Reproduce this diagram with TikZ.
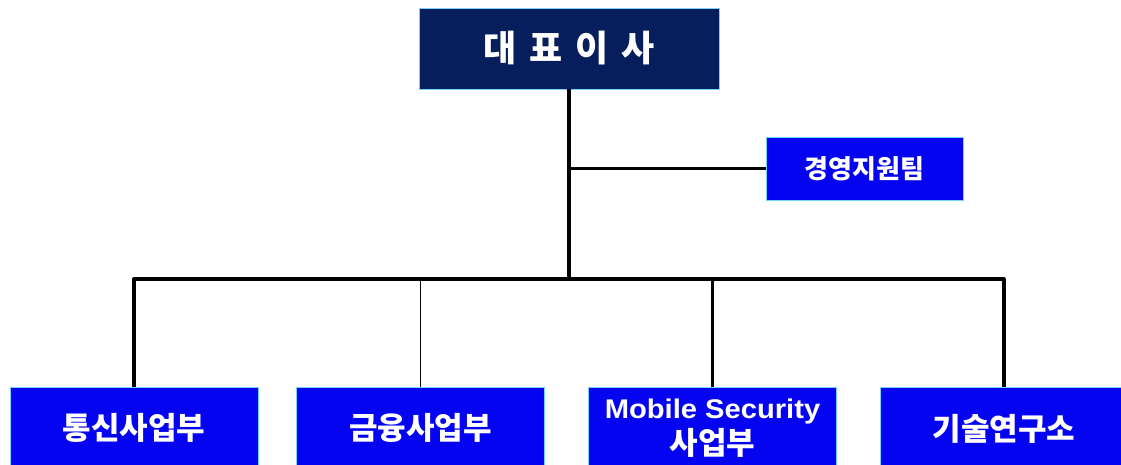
\documentclass[tikz,border=0pt]{standalone}
\usepackage{fontspec}
\newfontfamily\kr{Noto Sans CJK KR}
\newfontfamily\lat{Liberation Sans}[FakeStretch=1.08]
\definecolor{navy}{RGB}{6,30,92}
\definecolor{bright}{RGB}{4,4,240}
\definecolor{boxedge}{RGB}{120,210,255}
\begin{document}
\begin{tikzpicture}[x=1pt,y=-1pt,
  box/.style={draw=boxedge, line width=0.8pt, text=white, inner sep=0pt},
  topbox/.style={box, fill=navy, minimum width=300pt, minimum height=81pt,
    font={\kr\bfseries\fontsize{36}{40}\selectfont}},
  sidebox/.style={box, fill=bright, minimum width=197pt, minimum height=63pt,
    font={\kr\bfseries\fontsize{26}{30}\selectfont}},
  unitbox/.style={box, fill=bright, minimum width=248pt, minimum height=82pt,
    anchor=north, align=center, font={\kr\bfseries\fontsize{31}{36}\selectfont}},
  wire/.style={draw=black, line width=3.2pt, line join=round},
  thinwire/.style={draw=black, line width=1.6pt}
]
\useasboundingbox (0,0) rectangle (1121,465);
\clip (0,0) rectangle (1121,465);
\coordinate (busy) at (0,279);

\node[topbox] (ceo) at (569,48.5) {대\hspace{13pt}표\hspace{13pt}이\hspace{13pt}사};
\node[sidebox] (mgmt) at (864.5,168.5) {경영지원팀};

\node[unitbox] (tel) at (134,387) {통신사업부};
\node[unitbox] (fin) at (420.5,387) {금융사업부};
\node[unitbox] (mob) at (712.5,387) {{\lat\bfseries\fontsize{27}{36}\selectfont Mobile Security}\\사업부};
\node[unitbox] (lab) at (1004,387) {기술연구소};

\draw[wire] (ceo.south) -- (ceo.south |- busy);
\draw[wire] (ceo.south |- mgmt.west) -- (mgmt.west);
\draw[wire] (tel.north) -- (tel.north |- busy) -- (lab.north |- busy) -- (lab.north);
\draw[thinwire] (fin.north) -- (fin.north |- busy);
\draw[wire] (mob.north) -- (mob.north |- busy);
\end{tikzpicture}
\end{document}
